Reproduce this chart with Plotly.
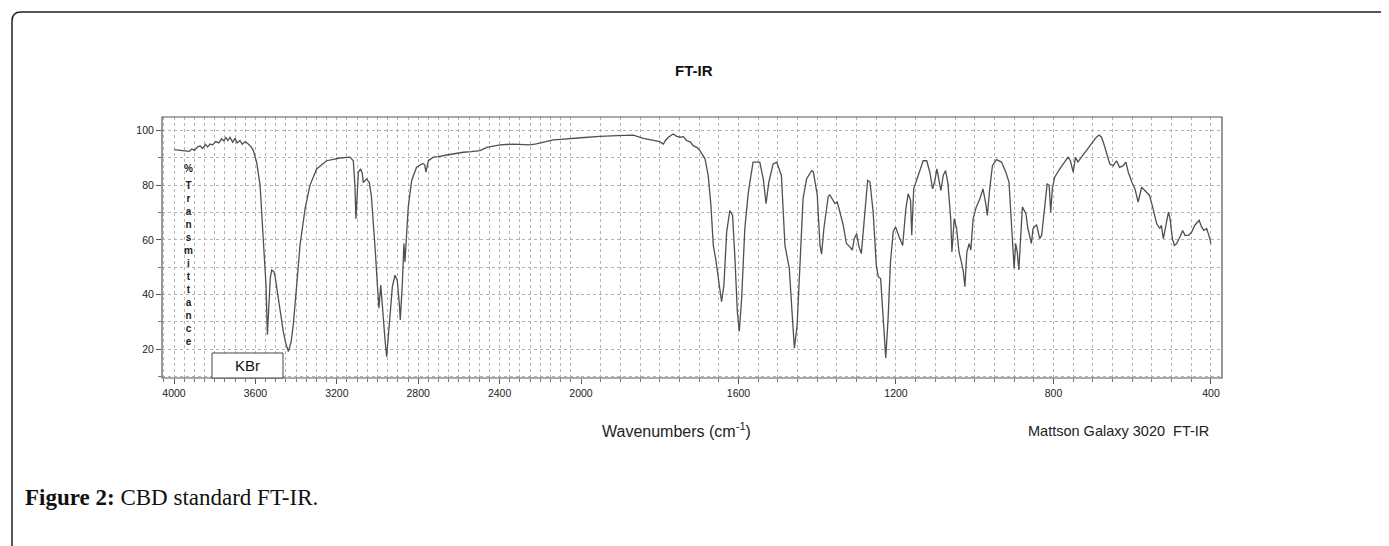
import plotly.graph_objects as go

# ---- data ----
wavenumber = [
    4000, 3970, 3938, 3925, 3913, 3900, 3885, 3872, 3860, 3845, 3835, 3823, 3810, 3795, 3780,
    3766, 3755, 3745, 3735, 3725, 3712, 3700, 3690, 3676, 3665, 3650, 3635, 3620, 3610, 3594,
    3577, 3561, 3548, 3541, 3534, 3527, 3520, 3510, 3504, 3487, 3463, 3450, 3438, 3425, 3414,
    3397, 3381, 3356, 3332, 3299, 3250, 3184, 3135, 3119, 3111, 3106, 3100, 3094, 3083, 3075,
    3070, 3060, 3053, 3046, 3040, 3030, 3021, 3010, 3001, 2993, 2984, 2976, 2963, 2955, 2942,
    2927, 2914, 2903, 2893, 2888, 2878, 2870, 2865, 2860, 2849, 2832, 2808, 2778, 2768, 2762,
    2755, 2750, 2726, 2700, 2660, 2620, 2578, 2540, 2496, 2463, 2430, 2398, 2333, 2290, 2251,
    2220, 2185, 2136, 2100, 2054, 2000,
    1986, 1952, 1909, 1867, 1842, 1816, 1800, 1791, 1785, 1778, 1766, 1758, 1749, 1740, 1732,
    1722, 1715, 1705, 1698, 1685, 1677, 1670, 1664, 1658, 1652, 1643, 1637, 1630, 1622, 1615,
    1609, 1603, 1598, 1592, 1584, 1575, 1563, 1546, 1537, 1530, 1523, 1512, 1503, 1491, 1482,
    1471, 1463, 1458, 1451, 1444, 1436, 1427, 1414, 1410, 1400, 1393, 1389, 1383, 1372, 1368,
    1355, 1349, 1341, 1334, 1326, 1317, 1311, 1306, 1300, 1294, 1288, 1281, 1272, 1266, 1258,
    1250, 1245, 1239, 1233, 1226, 1220, 1214, 1207, 1201, 1192, 1183, 1175, 1169, 1163, 1160,
    1155, 1148, 1140, 1131, 1122, 1114, 1107, 1102, 1096, 1091, 1086, 1080, 1074, 1068, 1061,
    1058, 1052, 1046, 1040, 1034, 1029, 1025, 1020, 1014, 1010, 1004, 996, 987, 979, 972,
    968, 962, 955, 945, 932, 921, 913, 907, 903, 900, 896, 892, 888, 883, 879,
    870, 865, 856, 852, 843, 835, 830, 822, 816, 811, 807, 803, 797, 784, 772,
    763, 757, 750, 744, 738, 729, 717, 704, 691, 684, 678, 672, 664, 657, 648,
    640, 632, 623, 616, 610, 601, 593, 585, 576, 568, 556, 547, 538, 530, 526,
    521, 514, 508, 504, 498, 493, 487, 479, 472, 466, 457, 449, 441, 430, 424,
    418, 411, 405, 400,
]
transmittance = [
    93.1, 92.8, 92.7, 92.4, 93.3, 92.8, 94.0, 94.5, 93.5, 95.0, 94.0, 95.1, 94.8, 96.0, 95.5,
    97.0, 96.2, 97.5, 96.4, 97.6, 95.8, 97.2, 95.5, 96.4, 95.0, 96.0, 95.1, 94.0, 92.7, 88.5,
    80.0, 61.7, 43.5, 25.3, 38.0, 46.0, 49.0, 48.5, 47.0, 38.6, 26.5, 22.0, 19.2, 22.5, 28.9,
    43.5, 58.0, 71.4, 80.0, 86.0, 89.0, 90.0, 90.3, 89.0, 80.0, 67.8, 76.0, 84.8, 86.0, 84.5,
    81.0, 82.0, 82.4, 81.5, 81.0, 76.0, 67.8, 55.0, 44.0, 35.0, 43.5, 34.3, 23.4, 17.3, 28.3,
    42.9, 47.1, 45.3, 36.8, 30.7, 44.0, 58.7, 52.0, 59.3, 72.0, 81.8, 86.6, 88.0, 87.5, 84.8,
    87.5, 89.0, 90.3, 90.5, 91.1, 91.6, 92.1, 92.3, 92.7, 93.9, 94.3, 94.8, 95.1, 95.0, 94.8,
    95.2, 95.7, 96.6, 96.8, 97.0, 97.4,
    97.6, 97.9, 98.2, 98.4, 97.2, 96.4, 96.0, 95.1, 96.5, 97.6, 98.8, 98.0, 97.6, 97.8, 96.4,
    95.8, 94.5, 93.8, 92.7, 89.7, 83.6, 72.7, 58.0, 53.2, 46.0, 37.4, 43.5, 63.0, 70.8, 69.0,
    53.2, 33.8, 26.5, 38.6, 64.0, 77.5, 88.5, 88.5, 82.4, 73.3, 81.2, 87.8, 88.5, 83.6, 58.0,
    49.6, 31.4, 20.4, 29.0, 49.6, 75.1, 82.4, 85.4, 85.0, 76.5, 58.0, 54.8, 64.4, 76.0, 76.5,
    73.3, 73.9, 69.0, 65.4, 58.7, 57.5, 56.3, 60.5, 62.3, 57.5, 55.0, 67.8, 81.8, 81.2, 70.2,
    50.8, 46.5, 45.9, 31.4, 16.8, 31.4, 52.0, 63.0, 64.8, 61.1, 58.0, 71.4, 76.9, 74.5, 61.7,
    78.7, 81.8, 84.8, 89.0, 89.0, 84.8, 78.7, 81.2, 86.0, 81.2, 78.1, 83.6, 85.4, 80.6, 67.8,
    55.6, 67.8, 64.2, 55.6, 52.0, 48.4, 42.9, 55.6, 58.7, 56.3, 67.8, 72.1, 75.1, 78.7, 73.3,
    69.0, 78.7, 87.2, 89.4, 88.5, 84.8, 81.2, 66.6, 58.0, 49.6, 58.7, 55.6, 49.0, 62.9, 72.1,
    69.6, 64.2, 58.7, 64.2, 65.6, 60.5, 61.7, 73.9, 80.6, 80.0, 70.2, 78.7, 83.0, 86.0, 88.5,
    90.3, 89.0, 84.8, 90.3, 88.5, 90.3, 92.7, 95.1, 97.6, 98.4, 97.6, 95.1, 91.5, 87.8, 87.2,
    89.0, 86.6, 87.2, 88.5, 84.8, 81.2, 78.7, 73.9, 79.3, 78.1, 76.3, 71.4, 66.0, 64.2, 65.4,
    60.5, 66.6, 70.2, 67.8, 60.5, 58.0, 58.7, 61.1, 63.5, 61.7, 61.7, 62.9, 65.4, 67.2, 64.8,
    63.5, 64.2, 61.5, 58.7,
]
split_wn = 2000
upper_ticks = [4000, 3600, 3200, 2800, 2400, 2000]
lower_ticks = [1600, 1200, 800, 400]
y_ticks = [20, 40, 60, 80, 100]
ylabel_text = "T<br>r<br>a<br>n<br>s<br>m<br>i<br>t<br>t<br>a<br>n<br>c<br>e"

# ---- layout geometry ----
# Reference-page pixel positions; the page body adds an 8px offset.
W, H = 1389, 546
OFF = 8
L, R, T, B = 162, 1222, 117, 378
PW, PH = R - L, B - T


def px(x):
    return (x - L) / PW


def py(y):
    return (B - y) / PH


split_px = 581
dom_split = px(split_px)

up_x = [w for w in wavenumber if w >= split_wn]
up_y = [t for w, t in zip(wavenumber, transmittance) if w >= split_wn]
lo_x = [w for w in wavenumber if w <= split_wn]
lo_y = [t for w, t in zip(wavenumber, transmittance) if w <= split_wn]

line = dict(color="#505050", width=1.3)
fig = go.Figure()
fig.add_trace(go.Scatter(x=up_x, y=up_y, mode="lines", line=line, xaxis="x", yaxis="y",
                         showlegend=False, hoverinfo="skip"))
fig.add_trace(go.Scatter(x=lo_x, y=lo_y, mode="lines", line=line, xaxis="x2", yaxis="y",
                         showlegend=False, hoverinfo="skip"))

grid = dict(showgrid=True, gridcolor="#b4b4b4", griddash="dot", gridwidth=1)
tickfont = dict(family="Liberation Sans, Arial", size=10.5, color="#222")

xcommon = dict(
    tickmode="array", ticks="outside", ticklen=5, tickcolor="#555", tickfont=tickfont,
    showline=False, zeroline=False,
    minor=dict(dtick=50, tick0=0, ticks="outside", ticklen=3, tickcolor="#777",
               showgrid=True, gridcolor="#b4b4b4", griddash="dot"),
    **grid,
)
fig.update_layout(
    width=W, height=H,
    margin=dict(l=L - OFF, r=W - (R - OFF), t=T - OFF, b=H - (B - OFF), pad=0),
    paper_bgcolor="white", plot_bgcolor="white",
    xaxis=dict(domain=[0, dom_split], range=[4059, split_wn], tickvals=upper_ticks,
               anchor="y", **xcommon),
    xaxis2=dict(domain=[dom_split, 1], range=[split_wn, 372], tickvals=lower_ticks,
                anchor="y", **xcommon),
    yaxis=dict(range=[9.5, 105], tickvals=y_ticks, ticks="outside", ticklen=5,
               tickcolor="#555", tickfont=tickfont, zeroline=False, showline=False,
               anchor="x",
               minor=dict(dtick=10, tick0=0, ticks="outside", ticklen=3, tickcolor="#777",
                          showgrid=True, gridcolor="#b4b4b4", griddash="dot"),
               **grid),
)

shapes = []
# plot frame
shapes.append(dict(type="rect", xref="paper", yref="paper", x0=0, y0=0, x1=1, y1=1,
                   line=dict(color="#555", width=1.2), layer="above"))
# KBr box
shapes.append(dict(type="rect", xref="paper", yref="paper", x0=px(212), x1=px(283),
                   y0=0, y1=py(353), fillcolor="white", line=dict(color="#444", width=1),
                   layer="above"))
# outer page frame with rounded corner
r = 9
path = (f"M {px(12)},{py(560)} L {px(12)},{py(12 + r)} "
        f"Q {px(12)},{py(12)} {px(12 + r)},{py(12)} L {px(1400)},{py(12)}")
shapes.append(dict(type="path", xref="paper", yref="paper", path=path,
                   line=dict(color="#222", width=1.5)))
fig.update_layout(shapes=shapes)

sans = "Liberation Sans, Arial"


def label(x, y, text, size, xanchor="center", family=sans, color="#222"):
    return dict(x=px(x), y=py(y), xref="paper", yref="paper", text=text,
                xanchor=xanchor, yanchor="middle", showarrow=False,
                font=dict(family=family, size=size, color=color))


ann = [
    label(694, 70, "<b>FT-IR</b>", 15, color="#111"),
    label(247, 365, "KBr", 15, color="#111"),
    label(676, 430, "Wavenumbers (cm<sup>-1</sup>)", 16),
    label(1118, 431, "Mattson Galaxy 3020  FT-IR", 14.5),
    label(23, 497, "<b>Figure 2:</b> CBD standard FT-IR.", 23, xanchor="left",
          family="Liberation Serif, Times New Roman", color="#111"),
    label(188, 168, "<b>%</b>", 10),
    label(188, 263, "<b>" + ylabel_text + "</b>", 10),
]
fig.update_layout(annotations=ann)

fig.write_html("out.html")
